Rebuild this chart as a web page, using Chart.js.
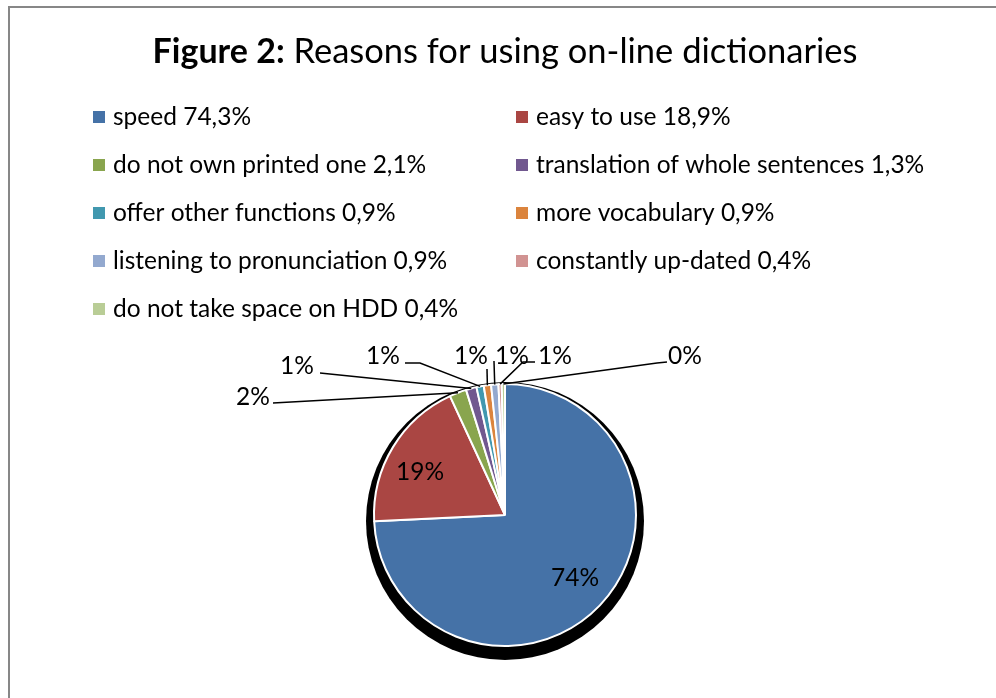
<!DOCTYPE html>
<html>
<head>
<meta charset="utf-8">
<script src="https://cdn.jsdelivr.net/npm/chart.js@4.4.0/dist/chart.umd.min.js"></script>
<style>
  html, body { margin: 0; padding: 0; background: #fff; }
  .frame { position: absolute; left: 8px; top: 6px; right: 0; bottom: 0;
           border-left: 2px solid #878787; border-top: 2px solid #878787; }
  canvas { position: absolute; left: 0; top: 0; }
</style>
</head>
<body>
<div class="frame"></div>
<canvas id="chart" width="996" height="698"></canvas>
<script>
const FONT = "Lato, 'Open Sans', sans-serif";

const reasons = [
  'speed 74,3%',
  'easy to use 18,9%',
  'do not own printed one 2,1%',
  'translation of whole sentences 1,3%',
  'offer other functions 0,9%',
  'more vocabulary 0,9%',
  'listening to pronunciation 0,9%',
  'constantly up-dated 0,4%',
  'do not take space on HDD 0,4%'
];
const shares = [74.3, 18.9, 2.1, 1.3, 0.9, 0.9, 0.9, 0.4, 0.4];
const shownLabels = ['74%', '19%', '2%', '1%', '1%', '1%', '1%', '1%', '0%'];
const colors = ['#4572A7', '#AA4643', '#89A54E', '#71588F', '#4198AF',
                '#DB843D', '#93A9CF', '#D19392', '#B9CD96'];

// label placement relative to pie centre (text centre, then leader line points)
const labelSpots = [
  { text: [70, 63] },
  { text: [-85, -43] },
  { text: [-252, -118], line: [[-232, -112]] },
  { text: [-208, -149], line: [[-185, -142]] },
  { text: [-122, -159], line: [[-100, -152], [-85, -152]] },
  { text: [-34, -159], line: [[-18, -146]] },
  { text: [7, -159], line: [[-11, -154]] },
  { text: [50, -159], line: [[30, -153], [18, -153]] },
  { text: [180, -159], line: [[162, -153], [152, -152]] }
];

const shadowPlugin = {
  id: 'shadow',
  beforeDatasetsDraw(chart) {
    const arc = chart.getDatasetMeta(0).data[0];
    const ctx = chart.ctx;
    ctx.save();
    ctx.fillStyle = '#000';
    ctx.beginPath();
    ctx.arc(arc.x, arc.y + 6, arc.outerRadius + 8, 0, Math.PI * 2);
    ctx.fill();
    ctx.restore();
  }
};

const titlePlugin = {
  id: 'figTitle',
  afterDraw(chart) {
    const ctx = chart.ctx;
    const cx = chart.getDatasetMeta(0).data[0].x;
    const boldPart = 'Figure 2:';
    const rest = ' Reasons for using on-line dictionaries';
    ctx.save();
    ctx.font = 'bold 34px ' + FONT;
    const w1 = ctx.measureText(boldPart).width;
    ctx.font = '34.5px ' + FONT;
    const w2 = ctx.measureText(rest).width;
    const x0 = cx - (w1 + w2) / 2;
    ctx.fillStyle = '#000';
    ctx.textBaseline = 'alphabetic';
    ctx.textAlign = 'left';
    ctx.font = 'bold 34px ' + FONT;
    ctx.fillText(boldPart, x0, 63);
    ctx.font = '34.5px ' + FONT;
    ctx.fillText(rest, x0 + w1, 63);
    ctx.restore();
  }
};

const legendPlugin = {
  id: 'twoColLegend',
  afterDraw(chart) {
    const ctx = chart.ctx;
    const cols = [93, 516];
    ctx.save();
    ctx.font = '24.5px ' + FONT;
    ctx.textBaseline = 'middle';
    ctx.textAlign = 'left';
    chart.data.labels.forEach((lab, i) => {
      const x = cols[i % 2];
      const y = 117 + Math.floor(i / 2) * 48;
      ctx.fillStyle = chart.data.datasets[0].backgroundColor[i];
      ctx.fillRect(x, y - 6, 12, 12);
      ctx.fillStyle = '#000';
      ctx.fillText(lab, x + 20, y);
    });
    ctx.restore();
  }
};

const sliceLabelPlugin = {
  id: 'sliceLabels',
  afterDatasetsDraw(chart) {
    const ctx = chart.ctx;
    const arcs = chart.getDatasetMeta(0).data;
    ctx.save();
    ctx.font = '24.5px ' + FONT;
    ctx.textAlign = 'center';
    ctx.textBaseline = 'middle';
    arcs.forEach((arc, i) => {
      const spot = labelSpots[i];
      const cx = arc.x, cy = arc.y;
      if (spot.line) {
        const mid = (arc.startAngle + arc.endAngle) / 2;
        ctx.strokeStyle = '#000';
        ctx.lineWidth = 1.5;
        ctx.beginPath();
        spot.line.forEach((p, k) => {
          if (k === 0) ctx.moveTo(cx + p[0], cy + p[1]);
          else ctx.lineTo(cx + p[0], cy + p[1]);
        });
        ctx.lineTo(cx + Math.cos(mid) * arc.outerRadius, cy + Math.sin(mid) * arc.outerRadius);
        ctx.stroke();
      }
      ctx.fillStyle = '#000';
      ctx.fillText(shownLabels[i], cx + spot.text[0], cy + spot.text[1]);
    });
    ctx.restore();
  }
};

new Chart(document.getElementById('chart'), {
  type: 'pie',
  data: {
    labels: reasons,
    datasets: [{
      data: shares,
      backgroundColor: colors,
      borderColor: '#fff',
      borderWidth: 2
    }]
  },
  options: {
    responsive: false,
    animation: false,
    layout: { padding: { left: 373, right: 359, top: 383, bottom: 51 } },
    plugins: {
      legend: { display: false },
      tooltip: { enabled: false },
      title: { display: false }
    }
  },
  plugins: [shadowPlugin, titlePlugin, legendPlugin, sliceLabelPlugin]
});
</script>
</body>
</html>
